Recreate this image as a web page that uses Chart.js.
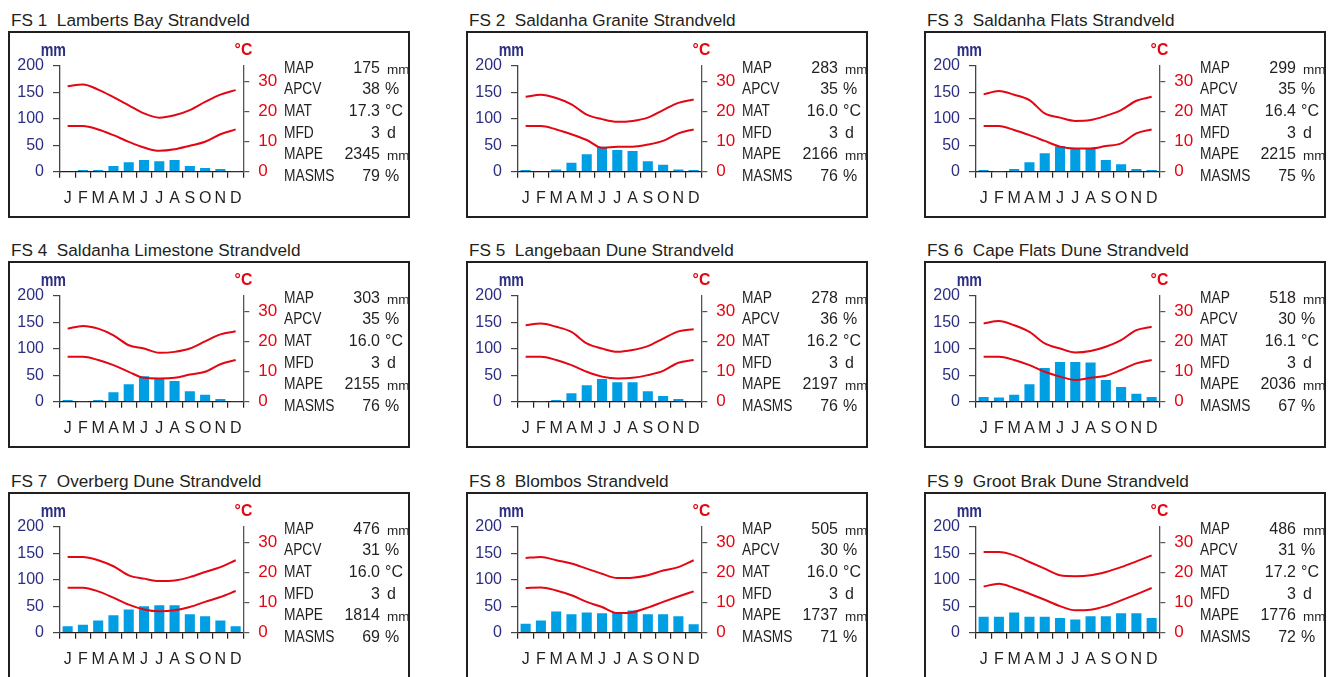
<!DOCTYPE html>
<html>
<head>
<meta charset="utf-8">
<script src="https://cdn.jsdelivr.net/npm/chart.js@4.4.0/dist/chart.umd.min.js"></script>
<style>
body { margin: 0; background: #fff; width: 1336px; height: 677px; overflow: hidden; position: relative;
       font-family: "Liberation Sans", Arial, sans-serif; color: #231f20; }
.panel { position: absolute; width: 402px; height: 187px; }
.title { position: absolute; left: 3px; top: -21px; font-size: 17.2px; line-height: 20px; white-space: nowrap; }
.box { position: absolute; left: 0; top: 0; width: 398px; height: 183px; border: 2px solid #231f20; }
.panel canvas { position: absolute; left: 0; top: 0; }
.unitL { position: absolute; font-weight: bold; font-size: 15px; line-height: 20px; transform-origin: center; }
.lab { position: absolute; left: 276px; font-size: 16px; line-height: 20px; transform: scaleX(0.86); transform-origin: left center; white-space: nowrap; }
.val { position: absolute; right: 30px; font-size: 16px; line-height: 20px; text-align: right; white-space: nowrap; }
.unit { position: absolute; font-size: 16px; line-height: 20px; white-space: nowrap; }
</style>
</head>
<body>
<script>
const months = ["J", "F", "M", "A", "M", "J", "J", "A", "S", "O", "N", "D"];

const titles = [
    "FS 1\u00a0\u00a0Lamberts Bay Strandveld",
    "FS 2\u00a0\u00a0Saldanha Granite Strandveld",
    "FS 3\u00a0\u00a0Saldanha Flats Strandveld",
    "FS 4\u00a0\u00a0Saldanha Limestone Strandveld",
    "FS 5\u00a0\u00a0Langebaan Dune Strandveld",
    "FS 6\u00a0\u00a0Cape Flats Dune Strandveld",
    "FS 7\u00a0\u00a0Overberg Dune Strandveld",
    "FS 8\u00a0\u00a0Blombos Strandveld",
    "FS 9\u00a0\u00a0Groot Brak Dune Strandveld"
];

// monthly rainfall, mm
const rainfall = [
    [0, 3, 3, 11, 18, 22, 20, 22, 11, 7, 5, 1],
    [3, 0, 4, 17, 33, 47, 41, 39, 20, 13, 4, 3],
    [3, 1, 5, 18, 35, 48, 43, 43, 22, 14, 5, 3],
    [3, 1, 3, 18, 33, 48, 44, 39, 20, 13, 5, 1],
    [1, 1, 3, 16, 31, 43, 37, 37, 20, 11, 5, 1],
    [9, 8, 13, 33, 64, 75, 75, 74, 41, 28, 15, 9],
    [12, 15, 23, 33, 44, 50, 52, 52, 35, 31, 23, 12],
    [17, 23, 40, 35, 38, 37, 38, 42, 35, 35, 31, 16],
    [30, 30, 38, 30, 30, 28, 25, 31, 31, 37, 37, 28]
];

// upper temperature curve, °C
const tempHigh = [
    [28.3, 28.9, 27.2, 24.7, 22.0, 19.3, 17.9, 18.7, 20.4, 23.1, 25.5, 27.0],
    [24.8, 25.5, 24.4, 22.3, 18.9, 17.4, 16.5, 16.8, 17.9, 20.4, 22.8, 23.9],
    [25.6, 26.7, 25.5, 23.7, 19.3, 17.9, 16.8, 17.1, 18.5, 20.4, 23.5, 24.8],
    [24.2, 25.1, 24.2, 22.0, 18.7, 17.6, 16.2, 16.5, 17.6, 20.0, 22.3, 23.3],
    [25.3, 25.9, 24.8, 23.1, 19.3, 17.6, 16.5, 17.1, 18.4, 20.9, 23.3, 24.0],
    [25.9, 26.7, 25.3, 23.1, 19.3, 17.6, 16.3, 16.8, 18.2, 20.4, 23.7, 24.8],
    [25.1, 25.1, 24.0, 22.0, 19.0, 17.9, 17.1, 17.3, 18.4, 20.1, 21.7, 24.0],
    [24.7, 25.1, 24.0, 22.9, 21.2, 19.5, 18.1, 18.2, 19.0, 20.6, 21.7, 24.0],
    [26.7, 26.7, 25.6, 23.4, 21.2, 19.0, 18.7, 19.0, 20.1, 21.7, 23.6, 25.6]
];

// lower temperature curve, °C
const tempLow = [
    [15.1, 15.1, 14.0, 12.1, 9.9, 8.0, 6.9, 7.4, 8.6, 9.9, 12.4, 14.0],
    [15.1, 15.1, 14.0, 12.4, 10.5, 7.9, 8.3, 8.3, 9.0, 10.2, 12.7, 14.0],
    [15.1, 15.1, 13.8, 12.1, 10.2, 8.3, 7.7, 7.7, 8.5, 9.4, 12.7, 14.0],
    [14.9, 14.9, 13.8, 12.1, 9.9, 7.9, 7.7, 7.9, 9.0, 9.9, 12.4, 13.8],
    [14.9, 14.9, 13.8, 12.1, 9.9, 8.3, 7.7, 7.9, 8.8, 10.2, 12.9, 13.8],
    [14.9, 14.9, 13.8, 12.1, 9.9, 8.3, 7.2, 7.9, 8.6, 10.5, 12.7, 13.8],
    [14.9, 14.9, 13.7, 11.6, 9.3, 7.7, 7.1, 7.4, 8.5, 10.2, 11.8, 13.8],
    [14.8, 15.0, 14.0, 12.4, 10.2, 8.5, 6.5, 6.8, 8.3, 10.2, 12.0, 13.7],
    [15.3, 16.2, 14.8, 12.9, 10.9, 8.8, 7.4, 7.6, 8.8, 10.7, 12.7, 14.8]
];

const statNames = ["MAP", "APCV", "MAT", "MFD", "MAPE", "MASMS"];
const statUnits = ["mm", "%", "°C", "d", "mm", "%"];
const mapVals   = ["175", "283", "299", "303", "278", "518", "476", "505", "486"];
const apcvVals  = ["38", "35", "35", "35", "36", "30", "31", "30", "31"];
const matVals   = ["17.3", "16.0", "16.4", "16.0", "16.2", "16.1", "16.0", "16.0", "17.2"];
const mfdVals   = ["3", "3", "3", "3", "3", "3", "3", "3", "3"];
const mapeVals  = ["2345", "2166", "2215", "2155", "2197", "2036", "1814", "1737", "1776"];
const masmsVals = ["79", "76", "75", "76", "76", "67", "69", "71", "72"];

const colLeft = [8, 466, 924];
const rowTop = [31, 261, 492];
const rowCenters = [36.5, 57.8, 79, 101, 122.5, 144];

const blue = "#2b2e83";
const red = "#e30613";
const ink = "#231f20";

Chart.defaults.font.family = '"Liberation Sans", Arial, sans-serif';
Chart.defaults.animation = false;

for (let i = 0; i < 9; i++) {
    const panel = document.createElement("div");
    panel.className = "panel";
    panel.style.left = colLeft[i % 3] + "px";
    panel.style.top = rowTop[Math.floor(i / 3)] + "px";
    document.body.appendChild(panel);

    const title = document.createElement("div");
    title.className = "title";
    title.textContent = titles[i];
    panel.appendChild(title);

    const box = document.createElement("div");
    box.className = "box";
    panel.appendChild(box);

    const canvas = document.createElement("canvas");
    canvas.width = 280;
    canvas.height = 187;
    panel.appendChild(canvas);

    const mm = document.createElement("div");
    mm.className = "unitL";
    mm.textContent = "mm";
    mm.style.color = blue;
    mm.style.left = "32px";
    mm.style.top = "9px";
    mm.style.transform = "scale(0.95, 1.25)";
    panel.appendChild(mm);

    const deg = document.createElement("div");
    deg.className = "unitL";
    deg.textContent = "°C";
    deg.style.color = red;
    deg.style.left = "227px";
    deg.style.top = "8px";
    deg.style.transform = "scale(1.05, 1.15)";
    panel.appendChild(deg);

    const vals = [mapVals[i], apcvVals[i], matVals[i], mfdVals[i], mapeVals[i], masmsVals[i]];
    for (let r = 0; r < statNames.length; r++) {
        const top = rowCenters[r] - 9.5;
        const lab = document.createElement("div");
        lab.className = "lab";
        lab.style.top = top + "px";
        lab.textContent = statNames[r];
        panel.appendChild(lab);

        const val = document.createElement("div");
        val.className = "val";
        val.style.top = top + "px";
        val.textContent = vals[r];
        panel.appendChild(val);

        const unit = document.createElement("div");
        unit.className = "unit";
        const u = statUnits[r];
        unit.style.left = (u === "%" || u === "°C") ? "377px" : "379px";
        if (u === "mm") {
            unit.style.fontSize = "13.5px";
            unit.style.top = (top + 1.8) + "px";
        } else {
            unit.style.top = top + "px";
        }
        unit.textContent = u;
        panel.appendChild(unit);
    }

    new Chart(canvas, {
        type: "bar",
        data: {
            labels: months,
            datasets: [
                {
                    type: "line",
                    data: tempHigh[i],
                    yAxisID: "y1",
                    borderColor: red,
                    borderWidth: 2,
                    pointRadius: 0,
                    cubicInterpolationMode: "monotone",
                    fill: false,
                    order: 1
                },
                {
                    type: "line",
                    data: tempLow[i],
                    yAxisID: "y1",
                    borderColor: red,
                    borderWidth: 2,
                    pointRadius: 0,
                    cubicInterpolationMode: "monotone",
                    fill: false,
                    order: 1
                },
                {
                    type: "bar",
                    data: rainfall[i],
                    yAxisID: "y",
                    backgroundColor: "#009fe3",
                    barPercentage: 0.66,
                    categoryPercentage: 1,
                    order: 2
                }
            ]
        },
        options: {
            responsive: false,
            devicePixelRatio: 1,
            layout: { padding: { top: 35, left: 0, right: 0, bottom: 0 } },
            plugins: { legend: { display: false }, tooltip: { enabled: false } },
            scales: {
                x: {
                    offset: true,
                    afterFit: (s) => { s.height = 46.3; },
                    grid: { offset: true, drawOnChartArea: false, drawTicks: true, tickLength: 6, color: ink, lineWidth: 1.2 },
                    border: { color: ink, width: 1.3 },
                    ticks: { color: ink, font: { size: 16 }, padding: 11, maxRotation: 0, autoSkip: false }
                },
                y: {
                    position: "left",
                    min: 0,
                    max: 200,
                    afterFit: (s) => { s.width = 52; },
                    grid: { drawOnChartArea: false, drawTicks: true, tickLength: 7, color: "#444", lineWidth: 1.2 },
                    border: { color: "#444", width: 1.3 },
                    ticks: { stepSize: 50, color: blue, font: { size: 16 }, padding: 9 }
                },
                y1: {
                    position: "right",
                    min: 0,
                    max: 35,
                    afterFit: (s) => { s.width = 44.7; },
                    grid: { drawOnChartArea: false, drawTicks: true, tickLength: 6, color: "#555", lineWidth: 1.2 },
                    border: { color: "#555", width: 1.3 },
                    ticks: { stepSize: 10, includeBounds: false, color: red, font: { size: 17 }, padding: 9 }
                }
            }
        }
    });
}
</script>
</body>
</html>
